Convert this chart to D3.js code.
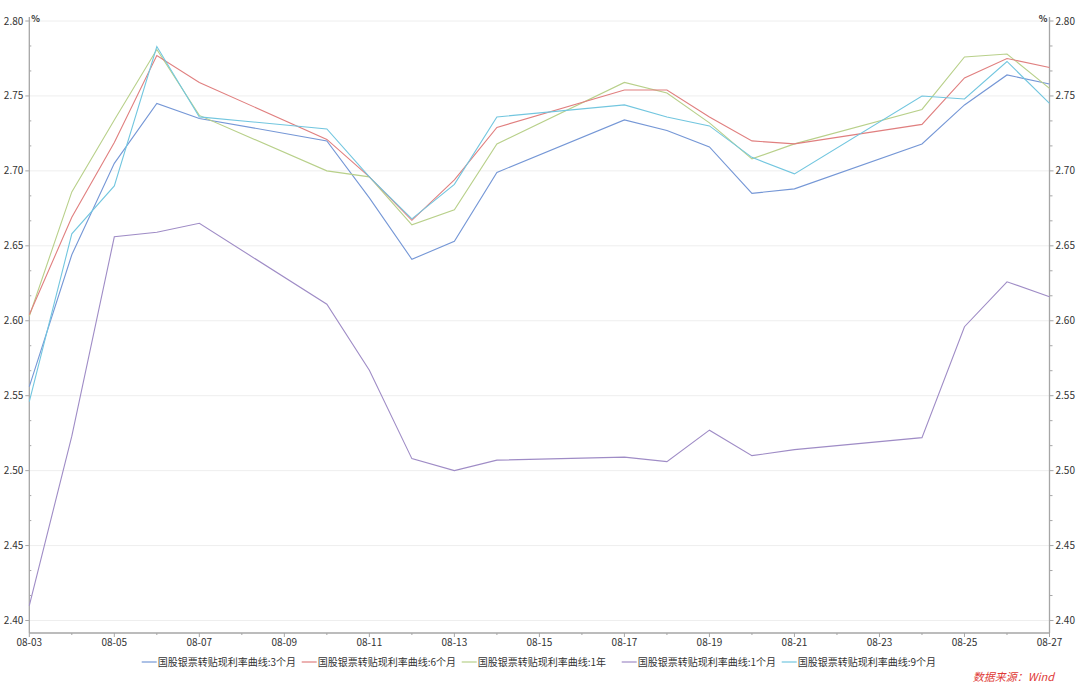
<!DOCTYPE html>
<html><head><meta charset="utf-8">
<script src="https://cdn.jsdelivr.net/npm/d3@7/dist/d3.min.js"></script>
<style>
body{margin:0;background:#fff;}
svg{display:block;font-family:"Noto Sans CJK SC","Noto Sans",sans-serif;}
</style></head>
<body><svg id="c" width="1080" height="684"></svg>
<script>
const dates = ["08-03","08-04","08-05","08-06","08-07","08-10","08-11","08-12","08-13","08-14","08-17","08-18","08-19","08-20","08-21","08-24","08-25","08-26","08-27"];
const s3m = [2.556,2.644,2.705,2.745,2.735,2.720,2.682,2.641,2.653,2.699,2.734,2.727,2.716,2.685,2.688,2.718,2.744,2.764,2.758];
const s6m = [2.604,2.669,2.719,2.777,2.759,2.721,2.696,2.667,2.694,2.729,2.754,2.754,2.736,2.720,2.718,2.731,2.762,2.775,2.769];
const s1y = [2.603,2.686,2.734,2.781,2.737,2.700,2.696,2.664,2.674,2.718,2.759,2.752,2.732,2.708,2.718,2.741,2.776,2.778,2.755];
const s1m = [2.410,2.523,2.656,2.659,2.665,2.611,2.567,2.508,2.500,2.507,2.509,2.506,2.527,2.510,2.514,2.522,2.596,2.626,2.616];
const s9m = [2.546,2.658,2.690,2.783,2.736,2.728,2.696,2.668,2.691,2.736,2.744,2.736,2.730,2.709,2.698,2.750,2.748,2.773,2.745];
const seriesNames = ["国股银票转贴现利率曲线:3个月","国股银票转贴现利率曲线:6个月","国股银票转贴现利率曲线:1年","国股银票转贴现利率曲线:1个月","国股银票转贴现利率曲线:9个月"];
const seriesColors = ["#7597d6","#e07f7f","#b8d08a","#9f8cc6","#72c6df"];
const yTicks = [2.40,2.45,2.50,2.55,2.60,2.65,2.70,2.75,2.80];
const xTickLabels = ["08-03","08-05","08-07","08-09","08-11","08-13","08-15","08-17","08-19","08-21","08-23","08-25","08-27"];
const source = "数据来源：Wind";

const svg = d3.select("#c");
const L = 29.3, R = 1049.5, T = 17, B = 633;
const parse = s => new Date(2020, +s.slice(0,2)-1, +s.slice(3));
const x = d3.scaleTime().domain([parse("08-03"), parse("08-27")]).range([L, R]);
const y = d3.scaleLinear().domain([2.40, 2.80]).range([620.5, 21]);
const axisCol = "#a6a6a6", txtCol = "#333";

// gridlines
svg.append("g").selectAll("line").data(yTicks).join("line")
  .attr("x1", L).attr("x2", R).attr("y1", d=>y(d)).attr("y2", d=>y(d))
  .attr("stroke", "#eeeeee").attr("stroke-width", 1);

// minor y ticks (thirds)
const minorY = [];
for (let i=0;i<yTicks.length-1;i++){ for (let k=1;k<3;k++) minorY.push(yTicks[i]+k*0.05/3); }

// left axis
const gl = svg.append("g");
gl.append("line").attr("x1",L).attr("x2",L).attr("y1",T).attr("y2",B).attr("stroke",axisCol).attr("stroke-width",1.3);
gl.selectAll(".mj").data(yTicks).join("line").attr("x1",L-4).attr("x2",L).attr("y1",d=>y(d)).attr("y2",d=>y(d)).attr("stroke",axisCol);
gl.selectAll(".mn").data(minorY).enter().append("line").attr("x1",L).attr("x2",L+2).attr("y1",d=>y(d)).attr("y2",d=>y(d)).attr("stroke",axisCol);
gl.selectAll("text").data(yTicks).join("text").attr("x",L-6).attr("y",d=>y(d)).attr("dy","0.35em")
  .attr("text-anchor","end").attr("font-size",10).attr("fill",txtCol).text(d=>d3.format(".2f")(d));
gl.append("text").attr("x",L+2).attr("y",22).attr("font-size",9).attr("font-weight","bold").attr("fill",txtCol).text("%");

// right axis
const gr = svg.append("g");
gr.append("line").attr("x1",R).attr("x2",R).attr("y1",T).attr("y2",B).attr("stroke",axisCol).attr("stroke-width",1.3);
gr.selectAll(".mj").data(yTicks).join("line").attr("x1",R).attr("x2",R+4).attr("y1",d=>y(d)).attr("y2",d=>y(d)).attr("stroke",axisCol);
gr.selectAll(".mn").data(minorY).enter().append("line").attr("x1",R).attr("x2",R+3).attr("y1",d=>y(d)).attr("y2",d=>y(d)).attr("stroke",axisCol);
gr.selectAll("text").data(yTicks).join("text").attr("x",R+6).attr("y",d=>y(d)).attr("dy","0.35em")
  .attr("text-anchor","start").attr("font-size",10).attr("fill",txtCol).text(d=>d3.format(".2f")(d));
gr.append("text").attr("x",R-2).attr("y",22).attr("text-anchor","end").attr("font-size",9).attr("font-weight","bold").attr("fill",txtCol).text("%");

// x axis
const gx = svg.append("g");
gx.append("line").attr("x1",L).attr("x2",R).attr("y1",B).attr("y2",B).attr("stroke",axisCol).attr("stroke-width",1.3);
const allDays = d3.timeDay.range(parse("08-03"), d3.timeDay.offset(parse("08-27"),1));
gx.selectAll(".t").data(allDays).enter().append("line")
  .attr("x1",d=>x(d)).attr("x2",d=>x(d)).attr("y1",B).attr("y2",(d,i)=> i%2===0 ? B+4 : B+2).attr("stroke",axisCol);
gx.selectAll("text").data(xTickLabels).join("text").attr("x",d=>x(parse(d))).attr("y",B+13)
  .attr("text-anchor","middle").attr("font-size",10).attr("fill",txtCol).text(d=>d);

// lines
const all = [s3m, s6m, s1y, s1m, s9m];
const line = d3.line().x((d,i)=>x(parse(dates[i]))).y(d=>y(d));
const gLines = svg.append("g");
[3,0,2,1,4].forEach(k=>{
  gLines.append("path").datum(all[k]).attr("d", line).attr("fill","none")
    .attr("stroke", seriesColors[k]).attr("stroke-width", 1.1);
});

// legend
const lg = svg.append("g");
seriesNames.forEach((n,i)=>{
  const x0 = 141.7 + i*160, yy = 662;
  lg.append("line").attr("x1",x0).attr("x2",x0+15).attr("y1",yy).attr("y2",yy).attr("stroke",seriesColors[i]).attr("stroke-width",1.2);
  lg.append("text").attr("x",x0+16).attr("y",yy).attr("dy","0.35em").attr("font-size",10).attr("fill",txtCol).text(n);
});

// source
svg.append("text").attr("x",1054).attr("y",677).attr("dy","0.35em").attr("text-anchor","end")
  .attr("font-size",11).attr("font-style","italic").attr("fill","#e03a36").text(source);
</script></body></html>
